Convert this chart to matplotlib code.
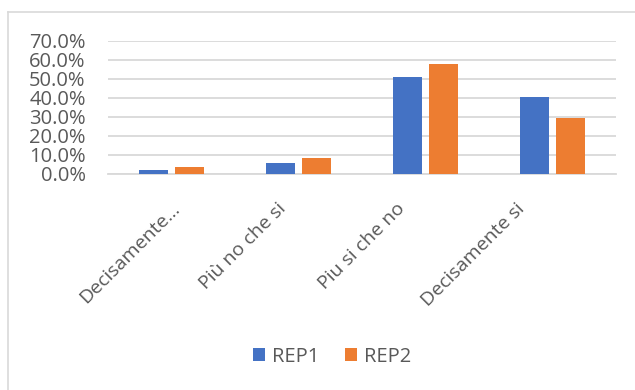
import matplotlib
matplotlib.use("Agg")
import matplotlib.pyplot as plt
from matplotlib.ticker import PercentFormatter
import matplotlib.transforms as mtransforms
import numpy as np

categories = ["Decisamente…", "Più no che si", "Piu si che no", "Decisamente si"]
rep1 = [0.020, 0.055, 0.512, 0.403]
rep2 = [0.037, 0.084, 0.580, 0.296]
series_names = ["REP1", "REP2"]
yticks = [0.0, 0.1, 0.2, 0.3, 0.4, 0.5, 0.6, 0.7]

BLUE = "#4472C4"
ORANGE = "#ED7D31"
TEXT = "#595959"
GRID = "#D9D9D9"

plt.rcParams["font.family"] = ["Open Sans", "DejaVu Sans"]

fig = plt.figure(figsize=(6.35, 3.9), dpi=100)
ax = fig.add_axes([0.170, 0.5546, 0.800, 0.3403])

x = np.arange(len(categories))
w = 0.23
ax.bar(x - 0.1425, rep1, width=w, color=BLUE, label=series_names[0], zorder=3)
ax.bar(x + 0.1425, rep2, width=w, color=ORANGE, label=series_names[1], zorder=3)

ax.set_xlim(-0.5, len(categories) - 0.5)
ax.set_ylim(0, 0.7)
ax.set_yticks(yticks)
ax.yaxis.set_major_formatter(PercentFormatter(1.0, decimals=1))
ax.grid(axis="y", color=GRID, linewidth=1.3, zorder=0)
for s in ["top", "right", "left"]:
    ax.spines[s].set_visible(False)
ax.spines["bottom"].set_color(GRID)
ax.spines["bottom"].set_linewidth(1.3)
ax.tick_params(axis="both", length=0, colors=TEXT, labelsize=14.5)
ax.tick_params(axis="y", pad=16)
ax.set_xticks(x)
ax.set_xticklabels([])

# category labels, rotated 45 degrees like Excel places them
label_dx = [6, -15, -23, -31]  # pixel shift of each label end
for xi, lab, dx in zip(x, categories, label_dx):
    tr = mtransforms.offset_copy(ax.get_xaxis_transform(), fig=fig, x=dx, y=-32, units="dots")
    ax.text(xi, 0, lab, transform=tr, rotation=45, ha="right", va="center",
            rotation_mode="anchor", fontsize=14, color=TEXT)

leg = fig.legend(loc="center", bbox_to_anchor=(0.523, 0.085), ncol=2, frameon=False,
                 fontsize=14.5, handlelength=0.6, handleheight=0.6,
                 columnspacing=1.3, handletextpad=0.35)
for t in leg.get_texts():
    t.set_color(TEXT)

# chart border (top and left visible in the reference)
fig.add_artist(plt.Line2D([8 / 635, 1], [1 - 12 / 390] * 2, color=GRID, linewidth=1.2))
fig.add_artist(plt.Line2D([8 / 635] * 2, [0, 1 - 12 / 390], color=GRID, linewidth=1.2))

fig.savefig("out.png", dpi=100)
